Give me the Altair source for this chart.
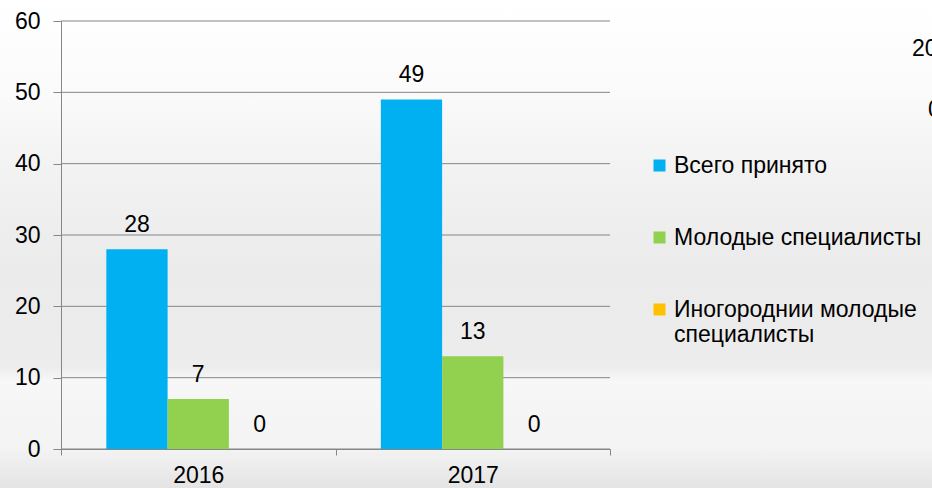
import altair as alt
import pandas as pd

years = ["2016", "2017"]
series = ["Всего принято", "Молодые специалисты", "Иногороднии молодые специалисты"]
total_hired = [28, 49]
young_specialists = [7, 13]
nonlocal_young = [0, 0]
colors = ["#00B0F0", "#92D050", "#FFC000"]
y_ticks = [0, 10, 20, 30, 40, 50, 60]
cut_texts = ["20", "0"]

rows = []
for i, yr in enumerate(years):
    for s, vals in zip(series, [total_hired, young_specialists, nonlocal_young]):
        rows.append({"year": yr, "series": s, "value": vals[i]})
df = pd.DataFrame(rows)
ticks_df = pd.DataFrame({"value": y_ticks})

FONT = "Liberation Sans"
FS = 23
AX = "#868686"

one = pd.DataFrame({"a": [0]})

bg = alt.Chart(one).mark_rect(
    color=alt.LinearGradient(
        gradient="linear", x1=0, x2=0, y1=0, y2=1,
        stops=[
            alt.GradientStop(offset=0, color="#ffffff"),
            alt.GradientStop(offset=0.18, color="#fbfbfb"),
            alt.GradientStop(offset=0.35, color="#f2f2f2"),
            alt.GradientStop(offset=0.55, color="#ebebeb"),
            alt.GradientStop(offset=0.75, color="#ececec"),
            alt.GradientStop(offset=0.78, color="#f7f7f7"),
            alt.GradientStop(offset=0.92, color="#f3f3f3"),
            alt.GradientStop(offset=1, color="#e4e4e4"),
        ],
    )
).encode(x=alt.value(-61), x2=alt.value(871), y=alt.value(-21), y2=alt.value(467))

yscale = alt.Scale(domain=[0, 60], nice=False)

grid = alt.Chart(ticks_df).mark_rule(color=AX, strokeWidth=1).encode(
    y=alt.Y("value:Q", scale=yscale, title=None),
    x=alt.value(0), x2=alt.value(549),
)

base = alt.Chart(df).encode(
    x=alt.X("year:N", sort=years, title=None,
            scale=alt.Scale(paddingInner=0, paddingOuter=0),
            axis=alt.Axis(labelAngle=0, tickBand="extent", domainColor=AX, tickColor=AX,
                          tickSize=6, labelPadding=9, labelFontSize=FS, labelFont=FONT,
                          labelColor="#000000", grid=False, zindex=1)),
    xOffset=alt.XOffset("series:N", sort=series,
                        scale=alt.Scale(paddingInner=0, paddingOuter=0.74)),
    y=alt.Y("value:Q", title=None, scale=yscale,
            axis=alt.Axis(values=y_ticks, domainColor=AX, tickColor=AX, tickSize=8,
                          grid=False, labelPadding=13, labelFontSize=FS,
                          labelFont=FONT, labelColor="#000000", zindex=1)),
)

bars = base.mark_bar().encode(
    color=alt.Color("series:N", sort=series,
                    scale=alt.Scale(domain=series, range=colors),
                    legend=alt.Legend(
                        title=None, orient="none", legendX=587, legendY=133,
                        symbolType="square", symbolSize=144, symbolStrokeWidth=0,
                        labelFontSize=FS, labelFont=FONT, labelColor="#000000",
                        labelLimit=400, rowPadding=48, labelOffset=3,
                        labelBaseline="middle",
                        labelExpr="datum.label == 'Иногороднии молодые специалисты' ? ['Иногороднии молодые', 'специалисты'] : datum.label",
                    ))
)

labels = base.mark_text(baseline="alphabetic", dy=-17, fontSize=FS, font=FONT, color="#000000").encode(
    text=alt.Text("value:Q")
)

cut1 = alt.Chart(one).mark_text(
    align="left", baseline="middle", fontSize=FS, font=FONT, color="#000000"
).encode(x=alt.value(851), y=alt.value(28), text=alt.value(cut_texts[0]))
cut2 = alt.Chart(one).mark_text(
    align="left", baseline="middle", fontSize=FS, font=FONT, color="#000000"
).encode(x=alt.value(867), y=alt.value(89), text=alt.value(cut_texts[1]))

chart = alt.layer(bg, grid, bars, labels, cut1, cut2).properties(
    width=549, height=428,
    autosize=alt.AutoSizeParams(type="none"),
    padding={"left": 61, "top": 21, "right": 322, "bottom": 39},
    background="#ffffff",
).configure_view(stroke=None).configure_axis(domainWidth=1, tickWidth=1)

chart.save("out.html", embed_options={"renderer": "svg", "actions": False})
